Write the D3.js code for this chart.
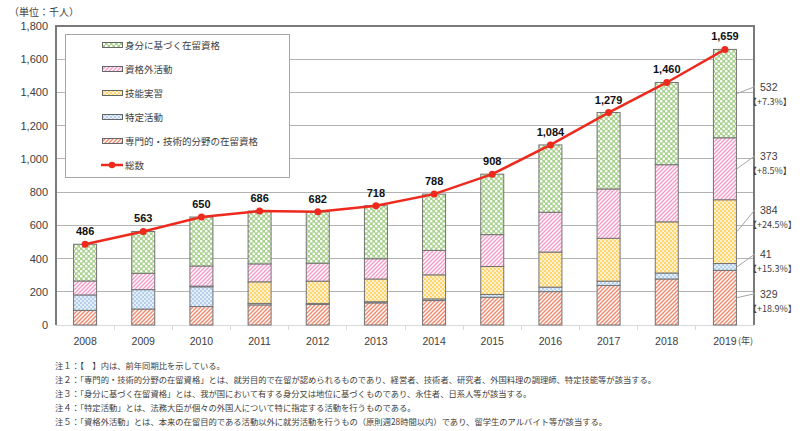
<!DOCTYPE html>
<html><head><meta charset="utf-8">
<script src="https://cdn.jsdelivr.net/npm/d3@7"></script>
<style>body{margin:0;background:#fff;} svg{display:block;}</style>
</head><body><svg id="chart" width="800" height="431"></svg>
<script>
// ---------------- data (thousand persons) ----------------
const years = ['2008','2009','2010','2011','2012','2013','2014','2015','2016','2017','2018','2019'];
const professional = [88, 96, 111, 121, 124, 133, 147, 167, 201, 238, 277, 329];   // 専門的・技術的分野の在留資格
const designated   = [93, 117, 119, 9, 6, 7, 10, 17, 27, 26, 36, 41];             // 特定活動
const trainee      = [0, 0, 4, 130, 134, 137, 145, 168, 211, 258, 308, 384];      // 技能実習
const outside      = [84, 98, 121, 108, 108, 122, 147, 192, 240, 297, 344, 373];  // 資格外活動
const statusBased  = [221, 252, 295, 318, 310, 319, 339, 364, 405, 460, 495, 532];// 身分に基づく在留資格
const totals       = [486, 563, 650, 686, 682, 718, 788, 908, 1084, 1279, 1460, 1659];
const growth2019   = ['+18.9%', '+15.3%', '+24.5%', '+8.5%', '+7.3%']; // bottom → top
const yTicks       = [0, 200, 400, 600, 800, 1000, 1200, 1400, 1600, 1800];
const seriesKeys   = ['professional','designated','trainee','outside','statusBased'];
const seriesNames  = ['専門的・技術的分野の在留資格','特定活動','技能実習','資格外活動','身分に基づく在留資格'];
const notes = [
  '注１：【　】内は、前年同期比を示している。',
  '注２：「専門的・技術的分野の在留資格」とは、就労目的で在留が認められるものであり、経営者、技術者、研究者、外国料理の調理師、特定技能等が該当する。',
  '注３：「身分に基づく在留資格」とは、我が国において有する身分又は地位に基づくものであり、永住者、日系人等が該当する。',
  '注４：「特定活動」とは、法務大臣が個々の外国人について特に指定する活動を行うものである。',
  '注５：「資格外活動」とは、本来の在留目的である活動以外に就労活動を行うもの（原則週28時間以内）であり、留学生のアルバイト等が該当する。'
];

// ---------------- setup ----------------
const svg = d3.select('#chart');
const JP = '"Noto Sans CJK JP", "Noto Sans", sans-serif';
const NUM = '"Liberation Sans", Arial, sans-serif';
const TXT = '#404040';

const table = years.map((yr, i) => ({
  year: yr, professional: professional[i], designated: designated[i], trainee: trainee[i],
  outside: outside[i], statusBased: statusBased[i], total: totals[i]
}));

const L = 56, R = 754, T = 26, B = 325;
const x = d3.scaleBand().domain(years).range([L, R]).paddingInner(0).paddingOuter(0);
const y = d3.scaleLinear().domain([0, 1800]).range([B, T]);
const barW = 24;
const cx = d => x(d) + x.bandwidth() / 2;

// ---------------- patterns ----------------
const defs = svg.append('defs');
function stripes(id, color) {
  const p = defs.append('pattern').attr('id', id).attr('patternUnits', 'userSpaceOnUse')
    .attr('width', 4).attr('height', 4);
  p.append('rect').attr('width', 4).attr('height', 4).attr('fill', '#fff');
  p.append('path').attr('d', 'M-1,1 l2,-2 M0,4 l4,-4 M3,5 l2,-2')
    .attr('stroke', color).attr('stroke-width', 1.4);
}
function dots(id, bg, r, size) {
  const p = defs.append('pattern').attr('id', id).attr('patternUnits', 'userSpaceOnUse')
    .attr('width', size).attr('height', size);
  p.append('rect').attr('width', size).attr('height', size).attr('fill', bg);
  p.append('circle').attr('cx', size / 4).attr('cy', size / 4).attr('r', r).attr('fill', '#fff');
  p.append('circle').attr('cx', size * 3 / 4).attr('cy', size * 3 / 4).attr('r', r).attr('fill', '#fff');
}
stripes('p-professional', '#f2876c');
dots('p-designated', '#b4d0ec', 0.9, 4);
dots('p-trainee', '#ffd56e', 0.9, 4);
stripes('p-outside', '#f79ac8');
dots('p-statusBased', '#a9d18e', 1.3, 5);

// ---------------- grid & axes ----------------
svg.append('g').selectAll('line').data(yTicks.filter(v => v > 0 && v < 1800)).join('line')
  .attr('x1', L).attr('x2', R).attr('y1', d => y(d)).attr('y2', d => y(d))
  .attr('stroke', '#b3b3b3').attr('stroke-width', 1).attr('shape-rendering', 'crispEdges');

// category separators under the axis
svg.append('g').selectAll('line').data(years.slice(1)).join('line')
  .attr('x1', d => x(d)).attr('x2', d => x(d)).attr('y1', B).attr('y2', B + 5)
  .attr('stroke', '#d9d9d9').attr('shape-rendering', 'crispEdges');
svg.append('line').attr('x1', L).attr('x2', R).attr('y1', B).attr('y2', B)
  .attr('stroke', '#d9d9d9').attr('shape-rendering', 'crispEdges');

// plot border (top, left, right)
svg.append('path').attr('d', `M${L},${B} V${T} H${R} V${B}`)
  .attr('fill', 'none').attr('stroke', '#7a7a7a').attr('stroke-width', 1.2)
  .attr('shape-rendering', 'crispEdges');

// y labels
svg.append('g').selectAll('text').data(yTicks).join('text')
  .attr('x', 48).attr('y', d => y(d) + 4).attr('text-anchor', 'end')
  .attr('font-family', NUM).attr('font-size', 11).attr('fill', TXT)
  .text(d3.format(','));

// x labels
svg.append('g').selectAll('text').data(years).join('text')
  .attr('x', d => cx(d)).attr('y', 345).attr('text-anchor', 'middle')
  .attr('font-family', NUM).attr('font-size', 10.5).attr('fill', TXT)
  .text(d => d);
svg.append('text').attr('x', cx('2019') + 13).attr('y', 344)
  .attr('font-family', JP).attr('font-size', 9).attr('fill', TXT).text('(年)');

// unit
svg.append('text').attr('x', 9).attr('y', 16)
  .attr('font-family', JP).attr('font-size', 10).attr('fill', TXT).text('（単位：千人）');

// ---------------- legend ----------------
const lg = svg.append('g');
lg.append('rect').attr('x', 65.5).attr('y', 34.5).attr('width', 224).attr('height', 143)
  .attr('fill', '#fff').attr('stroke', '#a6a6a6');
const legendItems = seriesKeys.map((k, i) => ({ key: k, name: seriesNames[i] })).reverse();
legendItems.forEach((it, i) => {
  const yy = 45 + i * 24;
  lg.append('rect').attr('x', 102.5).attr('y', yy - 2.5).attr('width', 20).attr('height', 5)
    .attr('fill', `url(#p-${it.key})`).attr('stroke', '#666').attr('stroke-width', 1);
  lg.append('text').attr('x', 125).attr('y', yy + 3.5)
    .attr('font-family', JP).attr('font-size', 9.5).attr('fill', TXT).text(it.name);
});
{
  const yy = 45 + 5 * 24;
  lg.append('line').attr('x1', 101).attr('x2', 123).attr('y1', yy).attr('y2', yy)
    .attr('stroke', '#ee2a1e').attr('stroke-width', 2.5);
  lg.append('circle').attr('cx', 112).attr('cy', yy).attr('r', 3.2).attr('fill', '#ee2a1e');
  lg.append('text').attr('x', 125).attr('y', yy + 3.5)
    .attr('font-family', JP).attr('font-size', 9.5).attr('fill', TXT).text('総数');
}

// ---------------- stacked bars ----------------
const stack = d3.stack().keys(seriesKeys)(table);
const bars = svg.append('g');
stack.forEach(layer => {
  bars.append('g').selectAll('rect').data(layer.filter(d => d[1] - d[0] > 0)).join('rect')
    .attr('x', d => cx(d.data.year) - barW / 2 + 0.5)
    .attr('y', d => y(d[1]))
    .attr('width', barW - 1)
    .attr('height', d => y(d[0]) - y(d[1]))
    .attr('fill', `url(#p-${layer.key})`)
    .attr('stroke', '#737373').attr('stroke-width', 1);
});

// ---------------- total line ----------------
const line = d3.line().x(d => cx(d.year)).y(d => y(d.total));
svg.append('path').datum(table).attr('d', line)
  .attr('fill', 'none').attr('stroke', '#ee2a1e').attr('stroke-width', 2.5);
svg.append('g').selectAll('circle').data(table).join('circle')
  .attr('cx', d => cx(d.year)).attr('cy', d => y(d.total)).attr('r', 3.5).attr('fill', '#ee2a1e');
svg.append('g').selectAll('text').data(table).join('text')
  .attr('x', d => cx(d.year)).attr('y', d => y(d.total) - 9).attr('text-anchor', 'middle')
  .attr('font-family', NUM).attr('font-weight', 'bold').attr('font-size', 11).attr('fill', '#111')
  .text(d => d3.format(',')(d.total));

// ---------------- 2019 annotations ----------------
const last = table[table.length - 1];
const labelLift = [4, 13, 22, 13, 7]; // layout offsets (px) of labels above leader start
const ann = svg.append('g');
stack.forEach((layer, i) => {
  const d = layer[layer.length - 1];
  const x0 = cx(last.year) + barW / 2;
  const y0 = y((d[0] + d[1]) / 2);
  const ly = y0 - labelLift[i];
  ann.append('line').attr('x1', x0).attr('y1', y0).attr('x2', 755).attr('y2', ly)
    .attr('stroke', '#a6a6a6').attr('stroke-width', 1);
  ann.append('text').attr('x', 760).attr('y', ly + 4)
    .attr('font-family', NUM).attr('font-size', 10.5).attr('fill', TXT)
    .text(d[1] - d[0]);
  ann.append('text').attr('x', 748).attr('y', ly + 18.5)
    .attr('font-family', JP).attr('font-size', 9).attr('fill', TXT)
    .text('【' + growth2019[i] + '】');
});

// ---------------- notes ----------------
svg.append('g').selectAll('text').data(notes).join('text')
  .attr('x', 55).attr('y', (d, i) => 369 + i * 14)
  .attr('font-family', JP).attr('font-size', 8.3).attr('fill', TXT)
  .text(d => d);
</script></body></html>
